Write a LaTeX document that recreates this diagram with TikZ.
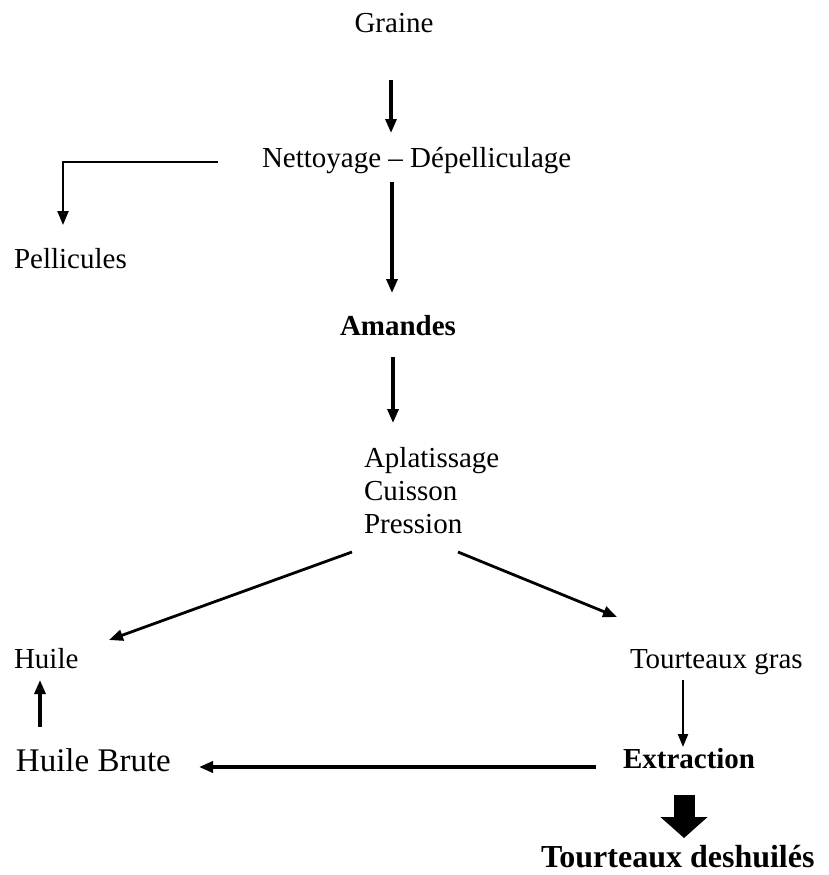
\documentclass[tikz,border=0pt]{standalone}
\usepackage{fontspec}
\setmainfont{Liberation Serif}
\usetikzlibrary{arrows.meta,calc}
\tikzset{
  lbl/.style={inner sep=0pt,outer sep=0pt,anchor=base west,font=\fontsize{29}{33}\selectfont},
  blbl/.style={lbl,font=\fontsize{29}{33}\selectfont\bfseries},
  arr/.style={line width=3.2pt,-{Triangle[length=14pt,width=11pt]}},
  thinarr/.style={line width=2.2pt,-{Triangle[length=13pt,width=10pt]}},
  bigarr/.style={line width=21pt,-{Triangle[length=21pt,width=46pt]}}
}
\begin{document}
\begin{tikzpicture}[x=1pt,y=-1pt]
\useasboundingbox (0,0) rectangle (829,875);
\node[lbl,anchor=base] (graine) at (394,33) {Graine};
\node[lbl] (nett) at (262,167) {Nettoyage – Dépelliculage};
\node[lbl] (pell) at (14,268) {Pellicules};
\node[blbl] (amandes) at (340,335) {Amandes};
\node[lbl,align=left] (aplat) at (364,533) {Aplatissage\\Cuisson\\Pression};
\node[lbl] (huile) at (14,668) {Huile};
\node[lbl] (tgras) at (630,668) {Tourteaux gras};
\node[lbl,font=\fontsize{33}{36}\selectfont] (hbrute) at (16,771) {Huile Brute};
\node[blbl] (extr) at (623,768) {Extraction};
\node[blbl,font=\fontsize{32}{36}\selectfont\bfseries] (tdes) at (541,867) {Tourteaux deshuilés};

\draw[arr] ($(graine.base)+(-3,47)$) -- ($(nett.base west)+(129,-34)$);
\draw[line width=2.2pt,-{Triangle[length=14pt,width=11pt]}] ($(nett.base west)+(-44,-5)$) -| ($(pell.base west)+(49,-43)$);
\draw[arr] ($(nett.base west)+(130,15)$) -- ($(amandes.base west)+(52,-42)$);
\draw[arr] ($(amandes.base west)+(53,22)$) -- ($(aplat.base west)+(29,-110)$);
\draw[arr,line width=2.8pt] ($(aplat.base west)+(-12,19)$) -- ($(huile.base west)+(95,-28)$);
\draw[arr,line width=2.8pt] ($(aplat.base west)+(94,19)$) -- ($(tgras.base west)+(-13,-51)$);
\draw[arr] ($(hbrute.base west)+(24,-44)$) -- ($(huile.base west)+(26,12)$);
\draw[thinarr] ($(tgras.base west)+(53,12)$) -- ($(extr.base west)+(60,-21)$);
\draw[arr,line width=3.6pt] ($(extr.base west)+(-27,-1)$) -- ($(hbrute.base west)+(183,-4)$);
\draw[bigarr] ($(extr.base west)+(61,27)$) -- ($(tdes.base west)+(143,-29)$);
\end{tikzpicture}
\end{document}
